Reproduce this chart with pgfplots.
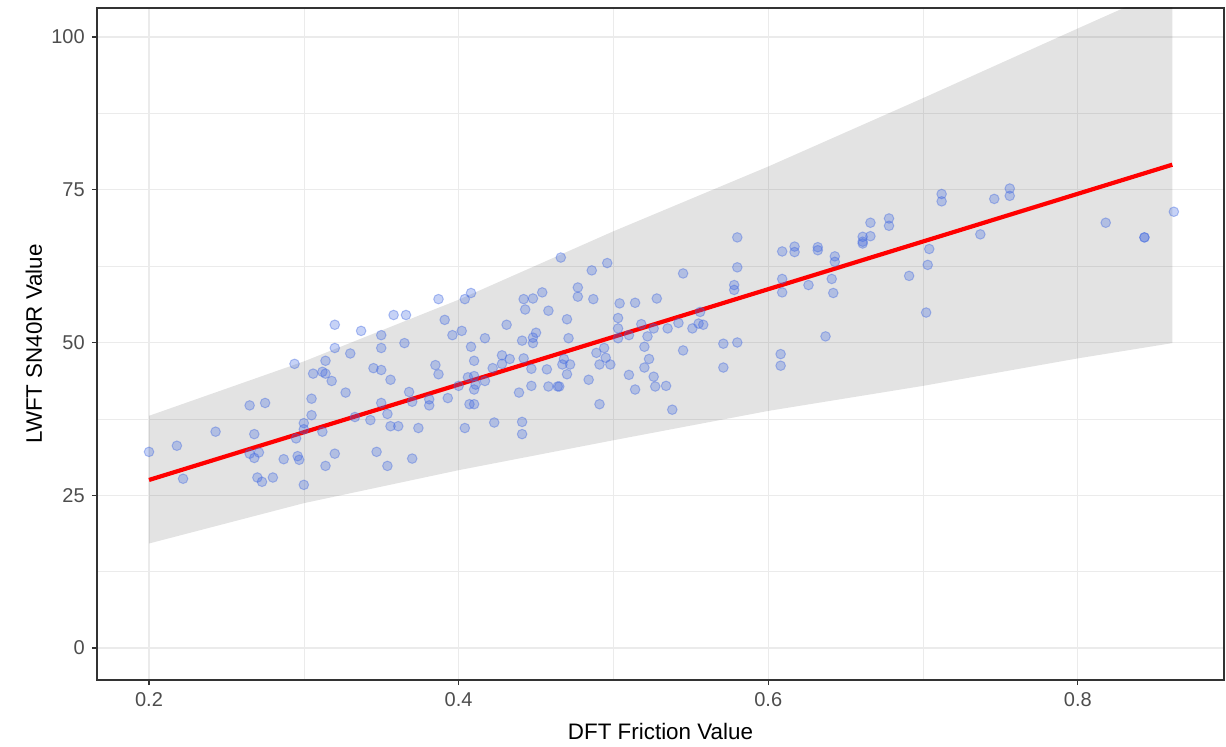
\documentclass[border=0pt]{standalone}
\usepackage{fontspec}
\setmainfont{Liberation Sans}
\usepackage{pgfplots}
\usepackage{pgfplotstable}
\pgfplotsset{compat=1.18}
\definecolor{royal}{RGB}{65,105,225}
\definecolor{gridc}{RGB}{235,235,235}
\definecolor{tickc}{RGB}{77,77,77}
\definecolor{framec}{RGB}{51,51,51}

\pgfplotstableread{
x y
0.200 32.1
0.218 33.1
0.222 27.7
0.243 35.4
0.265 39.7
0.275 40.1
0.268 35.0
0.271 32.0
0.265 31.8
0.268 31.1
0.270 27.9
0.273 27.2
0.280 27.9
0.287 30.9
0.296 31.4
0.297 30.8
0.300 36.8
0.300 35.8
0.295 34.3
0.300 26.7
0.320 52.9
0.337 51.9
0.350 51.2
0.358 54.5
0.366 54.5
0.365 49.9
0.350 49.1
0.320 49.1
0.330 48.2
0.294 46.5
0.314 47.0
0.312 45.2
0.306 44.9
0.314 44.9
0.318 43.7
0.345 45.8
0.350 45.5
0.356 43.9
0.327 41.8
0.305 40.8
0.368 41.9
0.370 40.3
0.350 40.1
0.305 38.1
0.312 35.4
0.333 37.8
0.343 37.3
0.354 38.3
0.356 36.3
0.361 36.3
0.347 32.1
0.320 31.8
0.314 29.8
0.354 29.8
0.370 31.0
0.387 57.1
0.404 57.1
0.408 58.1
0.442 57.1
0.443 55.4
0.391 53.7
0.431 52.9
0.396 51.2
0.402 51.9
0.417 50.7
0.441 50.3
0.408 49.3
0.410 47.0
0.428 47.9
0.433 47.3
0.428 46.5
0.422 45.8
0.385 46.3
0.387 44.8
0.406 44.3
0.410 44.5
0.417 43.7
0.411 43.1
0.410 42.3
0.400 42.9
0.381 40.7
0.381 39.7
0.393 40.9
0.407 39.9
0.410 39.9
0.439 41.8
0.442 47.4
0.374 36.0
0.404 36.0
0.423 36.9
0.441 37.0
0.441 35.0
0.466 63.9
0.486 61.8
0.496 63.0
0.477 59.0
0.477 57.5
0.454 58.2
0.448 57.2
0.458 55.2
0.487 57.1
0.504 56.4
0.514 56.5
0.470 53.8
0.503 54.0
0.503 52.3
0.448 50.8
0.450 51.6
0.448 49.9
0.471 50.7
0.503 50.7
0.510 51.2
0.489 48.3
0.494 49.1
0.495 47.5
0.491 46.4
0.498 46.4
0.447 45.7
0.457 45.6
0.468 47.3
0.467 46.4
0.472 46.4
0.470 44.8
0.484 43.9
0.510 44.7
0.447 42.9
0.458 42.8
0.464 42.8
0.465 42.8
0.491 39.9
0.545 61.3
0.580 62.3
0.578 59.4
0.578 58.6
0.528 57.2
0.518 53.0
0.526 52.3
0.535 52.3
0.542 53.2
0.556 55.0
0.555 53.1
0.558 52.9
0.551 52.3
0.522 51.0
0.520 49.3
0.545 48.7
0.571 49.8
0.580 50.0
0.523 47.3
0.520 45.9
0.526 44.4
0.514 42.3
0.527 42.8
0.534 42.9
0.571 45.9
0.538 39.0
0.580 67.2
0.609 64.9
0.617 65.7
0.617 64.8
0.632 65.6
0.632 65.1
0.643 64.1
0.643 63.2
0.661 67.3
0.661 66.5
0.661 66.2
0.666 69.6
0.666 67.4
0.678 70.3
0.678 69.1
0.609 60.4
0.609 58.2
0.626 59.4
0.641 60.4
0.642 58.1
0.637 51.0
0.608 48.1
0.608 46.2
0.712 74.3
0.712 73.1
0.746 73.5
0.756 75.2
0.756 74.0
0.737 67.7
0.704 65.3
0.703 62.7
0.691 60.9
0.702 54.9
0.818 69.6
0.843 67.2
0.843 67.2
0.862 71.4
}\points

\pgfplotstableread{
x y
0.200 38.0
0.300 46.9
0.400 57.0
0.500 68.2
0.600 78.8
0.700 90.0
0.800 101.4
0.861 108.3
0.861 49.9
0.800 47.4
0.700 42.9
0.600 38.8
0.500 34.0
0.400 29.1
0.300 23.7
0.200 17.1
}\band

\pgfplotstableread{
x y
0.200 27.5
0.861 79.1
}\fit

\begin{document}
\begin{tikzpicture}
\useasboundingbox (0,0) rectangle (613pt,373.5pt);
\begin{axis}[
  at={(48.5pt,33.5pt)}, anchor=south west,
  scale only axis, width=563.5pt, height=336pt,
  xmin=0.1664, xmax=0.8944, ymin=-5.24, ymax=104.75,
  xtick={0.2,0.4,0.6,0.8}, ytick={0,25,50,75,100},
  minor xtick={0.3,0.5,0.7}, minor ytick={12.5,37.5,62.5,87.5},
  xtick pos=bottom, ytick pos=left,
  grid=both,
  major grid style={draw=gridc, line width=0.55pt},
  minor grid style={draw=gridc, line width=0.3pt},
  axis line style={draw=framec, line width=0.55pt},
  tick align=outside,
  major tick style={draw=framec, line width=0.55pt},
  major tick length=2.6pt,
  minor tick length=0pt,
  /pgf/number format/assume math mode=true,
  ticklabel style={font=\fontsize{10}{12}\selectfont, text=tickc},
  xticklabel style={/pgf/number format/fixed, /pgf/number format/precision=1},
  label style={font=\fontsize{11.2}{13}\selectfont, text=black},
  xlabel={DFT Friction Value},
  ylabel={LWFT SN40R Value},
  xlabel style={at={(axis description cs:0.5,0)}, anchor=base, yshift=-30pt},
  ylabel style={at={(axis description cs:0,0.5)}, anchor=base, yshift=27.5pt},
]
\addplot[fill=black, fill opacity=0.11, draw=none] table[x=x,y=y] {\band} -- cycle;
\addplot[only marks, mark=*, mark size=2.4pt,
  mark options={fill=royal, draw=royal, fill opacity=0.3, draw opacity=0.4, line width=0.5pt}]
  table[x=x,y=y] {\points};
\addplot[red, line width=2.1pt] table[x=x,y=y] {\fit};
\end{axis}
\end{tikzpicture}
\end{document}
